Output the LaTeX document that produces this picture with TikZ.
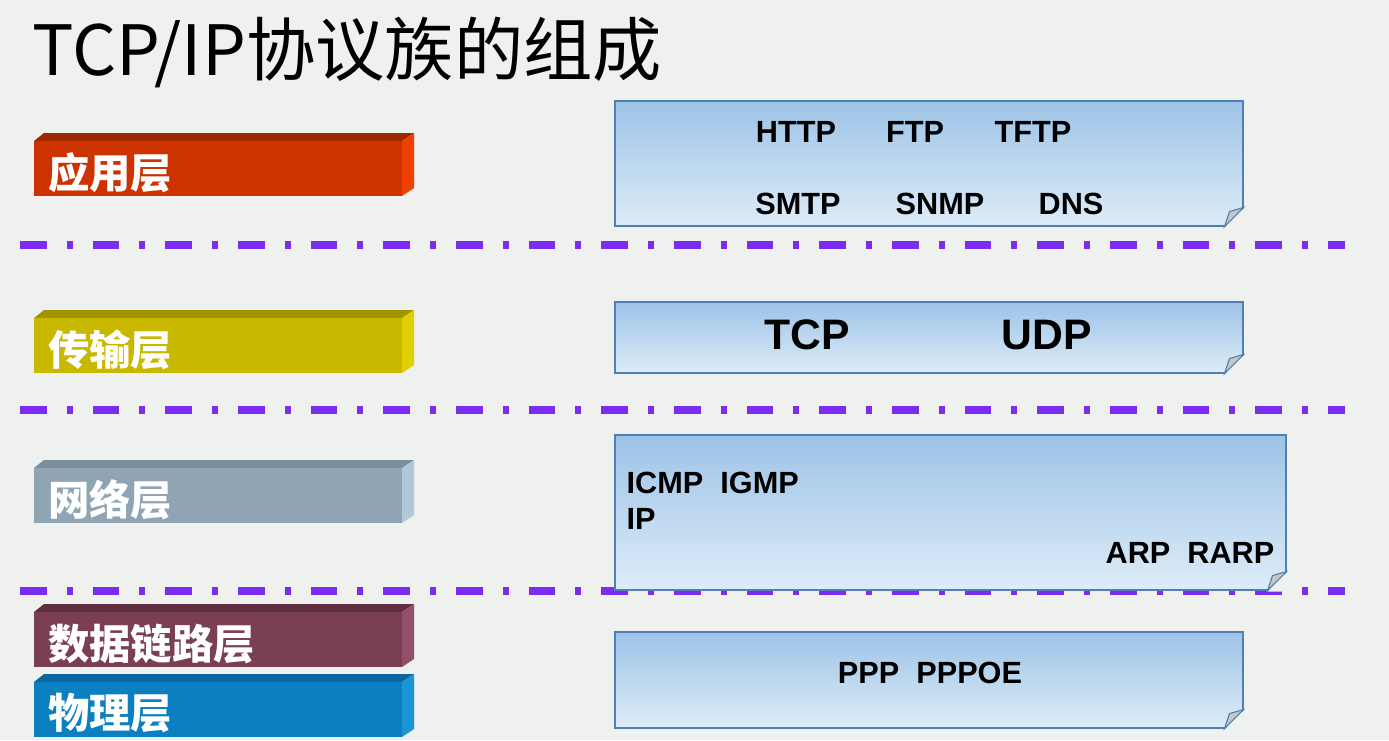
\documentclass[tikz,border=0pt]{standalone}
\usepackage{fontspec}
\setmainfont{Liberation Sans}
\newfontfamily\cjk{Noto Sans CJK SC}
\usetikzlibrary{positioning,fit,calc}
\definecolor{bgcol}{HTML}{EFF1EE}
\definecolor{sepcol}{HTML}{7A2CF0}
\definecolor{boxline}{HTML}{4F7FB5}
\definecolor{boxtop}{HTML}{9DC3E6}
\definecolor{boxbot}{HTML}{DDECF8}
\definecolor{appfront}{HTML}{CC3300}
\definecolor{apptop}{HTML}{A02800}
\definecolor{appside}{HTML}{F04000}
\definecolor{transfront}{HTML}{C8B800}
\definecolor{transtop}{HTML}{A09500}
\definecolor{transside}{HTML}{E0D000}
\definecolor{netfront}{HTML}{8FA5B3}
\definecolor{nettop}{HTML}{7A8F9C}
\definecolor{netside}{HTML}{B0C8D8}
\definecolor{linkfront}{HTML}{7A3E55}
\definecolor{linktop}{HTML}{5E2E40}
\definecolor{linkside}{HTML}{92506A}
\definecolor{phyfront}{HTML}{0B7FC0}
\definecolor{phytop}{HTML}{0A65A0}
\definecolor{physide}{HTML}{1A95D8}
\newcommand{\layerbar}[5]{%
  \fill [#4top] (#2,#3+8) -- (#2+10,#3) -- (414,#3) -- (402,#3+8) -- cycle;
  \fill [#4side] (402,#3+8) -- (414,#3) -- (414,#3+55) -- (402,#3+63) -- cycle;
  \node [layer, fill=#4front, fit={(#2,#3+8) (402,#3+63)}] (#1) {};
  \node [layer, anchor=west] at ($(#1.west)+(14,4)$) {#5};
}
\begin{document}
\begin{tikzpicture}[x=0.75pt,y=-0.75pt]
      \tikzstyle{layer}=[inner sep=0, text=white, font=\cjk\bfseries\fontsize{31}{31}\selectfont]
      \tikzstyle{box}=[draw=boxline, thick, top color=boxtop, bottom color=boxbot, inner sep=0]
      \tikzstyle{proto}=[font=\bfseries\fontsize{23}{23}\selectfont]
      \tikzstyle{bigproto}=[font=\bfseries\fontsize{32}{32}\selectfont]
      \tikzstyle{sep}=[sepcol, line width=5.5pt, dash pattern=on 20pt off 15pt on 4.5pt off 15pt]

      \fill [bgcol] (0,0) rectangle (1389,740);
      \node [anchor=west, font=\cjk\fontsize{52}{52}\selectfont] (title) at (28,52) {TCP/IP协议族的组成};

      % layer bars
      \layerbar{app}{34}{133}{app}{应用层}
      \layerbar{trans}{34}{310}{trans}{传输层}
      \layerbar{net}{34}{460}{net}{网络层}
      \layerbar{link}{34}{604}{link}{数据链路层}
      \layerbar{phy}{34}{674}{phy}{物理层}

      % separators
      \draw [sep] (20,245) -- (1345,245);
      \draw [sep] (20,410) -- (1345,410);
      \draw [sep] (20,591) -- (1345,591);

      % protocol boxes
      \node (appbox) [box, fit={(615,101) (1243,226)}] {};
      \node (transbox) [box, fit={(615,302) (1243,373)}] {};
      \node (netbox) [box, fit={(615,435) (1286,590)}] {};
      \node (linkbox) [box, fit={(615,632) (1243,728)}] {};
      \foreach \b in {appbox,transbox,netbox,linkbox} {
        \fill [bgcol] ($(\b.south east)+(-19,1)$) -- ($(\b.south east)+(1,-19)$) -- ($(\b.south east)+(1,1)$) -- cycle;
        \filldraw [draw=boxline, thick, fill=gray!45] ($(\b.south east)+(-19,0)$) -- ($(\b.south east)+(-14,-15)$) -- ($(\b.south east)+(0,-19)$) -- cycle;
      }

      \node [proto] (http) at (796,132) {HTTP};
      \node [proto] (ftp) at (915,132) {FTP};
      \node [proto] (tftp) at (1033,132) {TFTP};
      \node [proto] (smtp) at (798,204) {SMTP};
      \node [proto] (snmp) at (940,204) {SNMP};
      \node [proto] (dns) at (1071,204) {DNS};
      \node [bigproto] (tcp) at (807,335) {TCP};
      \node [bigproto] (udp) at (1047,335) {UDP};
      \node [proto, anchor=west] (icmp) at (622,483) {ICMP\ \ IGMP};
      \node [proto, anchor=west] (ip) at (622,519) {IP};
      \node [proto, anchor=east] (arp) at (1279,553) {ARP\ \ RARP};
      \node [proto] (ppp) at (930,673) {PPP\ \ PPPOE};
\end{tikzpicture}
\end{document}
